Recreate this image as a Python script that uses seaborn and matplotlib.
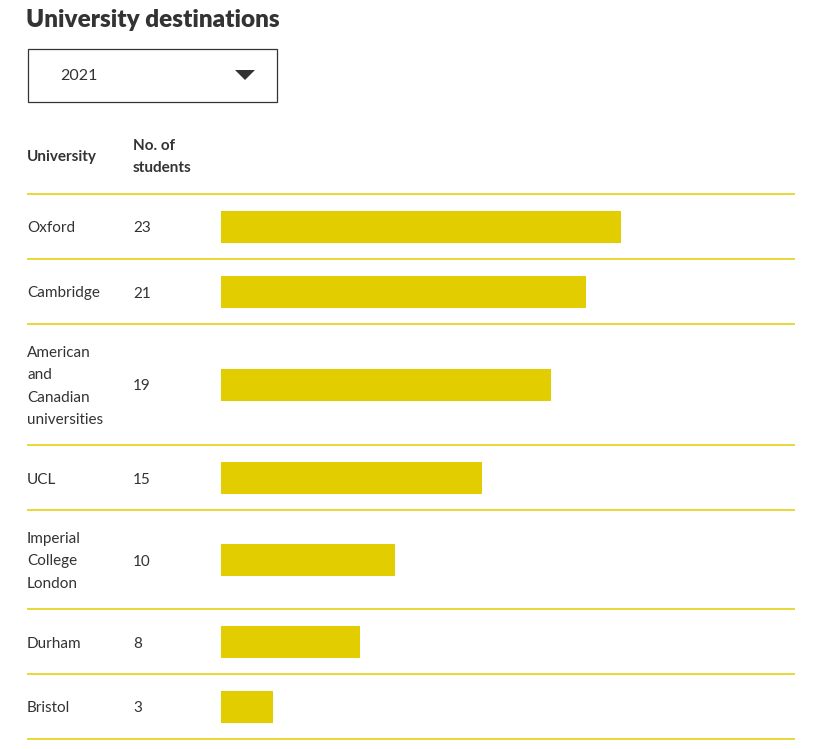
"""University destinations table chart."""

import matplotlib.pyplot as plt
import pandas as pd
import seaborn as sns

sns.set_theme(style="white")
plt.rcParams["font.family"] = ["Lato", "DejaVu Sans"]

# Data
universities = [
    "Oxford",
    "Cambridge",
    "American\nand\nCanadian\nuniversities",
    "UCL",
    "Imperial\nCollege\nLondon",
    "Durham",
    "Bristol",
]
students = [23, 21, 19, 15, 10, 8, 3]
year_label = "2021"

TEXT = "#333333"
YELLOW = "#e1cd00"
W, H = 821, 749
PX_PER_STUDENT = 17.39
LINE_H = 22
BAR_H = 32
PAD = 16.5
TABLE_TOP = 194
LEFT, RIGHT = 27, 795
NUM_X = 133
BAR_X = 221
TXT_DY = 2  # text sits a little below the row centre

# Row layout: each row grows with the number of label lines
row_top = []
row_mid = []
y = TABLE_TOP
for name in universities:
    n_lines = name.count("\n") + 1
    h = max(n_lines * LINE_H, BAR_H) + 2 * PAD
    row_top.append(y)
    row_mid.append(y + h / 2)
    y += h
row_top.append(y)

df = pd.DataFrame({"University": universities, "Students": students, "y": row_mid})

fig = plt.figure(figsize=(W / 100, H / 100), dpi=100)
bg = fig.add_axes([0, 0, 1, 1])
bg.set_xlim(0, W)
bg.set_ylim(H, 0)
bg.axis("off")

# Title and dropdown
bg.text(LEFT - 1, 20, "University destinations", fontsize=17.5, fontweight="heavy",
        color=TEXT, va="center", ha="left")
bg.add_patch(plt.Rectangle((27.5, 48.5), 249, 53, fill=False, edgecolor=TEXT, lw=0.9))
bg.text(60, 76, year_label, fontsize=11.5, color=TEXT, va="center", ha="left")
bg.add_patch(plt.Polygon([(235, 70), (255, 70), (245, 80)], closed=True,
                         facecolor=TEXT, edgecolor="none"))

# Headers
bg.text(LEFT, 157, "University", fontsize=11, fontweight="bold", color=TEXT,
        va="center", ha="left")
bg.text(NUM_X, 157, "No. of\nstudents", fontsize=11, fontweight="bold", color=TEXT,
        va="center", ha="left", linespacing=1.75)

# Row separators
for yy in row_top:
    bg.plot([LEFT, RIGHT], [yy, yy], color=YELLOW, lw=1.1, solid_capstyle="butt")

# Row labels
for name, n, ym in zip(universities, students, row_mid):
    bg.text(LEFT, ym + TXT_DY, name, fontsize=11, color=TEXT, va="center", ha="left",
            linespacing=1.75)
    bg.text(NUM_X, ym + TXT_DY, str(n), fontsize=11, color=TEXT, va="center", ha="left")

# Bars: numeric y positions, so width is relative to the tightest row spacing
ax = fig.add_axes([BAR_X / W, 0, (W - BAR_X) / W, 1])
min_gap = min(b - a for a, b in zip(row_mid, row_mid[1:]))
sns.barplot(data=df, x="Students", y="y", orient="h", native_scale=True,
            width=BAR_H / min_gap, color=YELLOW, saturation=1, edgecolor="none",
            linewidth=0, errorbar=None, ax=ax)
ax.set_xlim(0, (W - BAR_X) / PX_PER_STUDENT)
ax.set_ylim(H, 0)
ax.axis("off")
ax.patch.set_alpha(0)

fig.savefig("out.png", dpi=100)
